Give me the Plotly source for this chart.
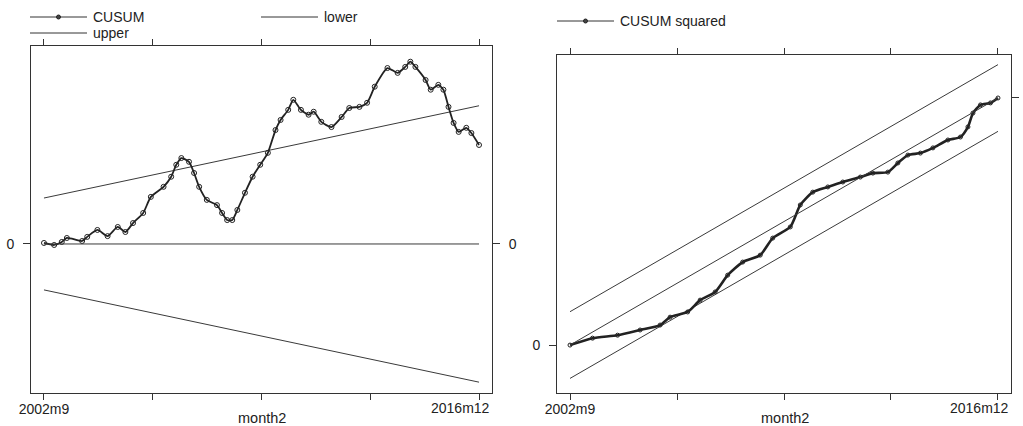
import plotly.graph_objects as go

W, H = 1023, 426

# ---------------- data ----------------
tick_months = [0, 42.75, 85.5, 128.25, 171]
tick_text = ["2002m9", "", "", "", ""]
end_label = "2016m12"

cusum_month = [0, 4, 7, 9, 15, 17, 21, 25, 29, 32, 35, 39, 42, 47, 50, 52, 54, 57, 59, 61,
               64, 68, 70, 72, 74, 76, 79, 82, 85, 88, 91, 93, 96, 98, 101, 104, 106, 109,
               113, 117, 120, 124, 127, 130, 135, 139, 142, 144, 146, 150, 152, 155, 157,
               159, 161, 163, 166, 168, 171]
cusum_value = [0.27, -0.27, 0.54, 1.6, 0.8, 1.9, 3.75, 2.1, 4.55, 3.2, 5.6, 8.3, 12.6, 15.3,
               18.0, 21.2, 23.0, 22.0, 19.0, 15.3, 11.8, 10.4, 8.3, 6.4, 6.4, 9.1, 13.7, 18.0,
               21.2, 24.4, 30.5, 33.2, 35.9, 38.6, 35.9, 34.6, 35.4, 32.7, 31.3, 34.0, 36.4,
               36.7, 37.8, 42.1, 47.1, 45.8, 47.4, 48.8, 47.4, 43.9, 41.3, 42.6, 41.3, 36.7,
               32.4, 30.0, 31.1, 29.7, 26.5]

bound_month = [0, 171]
upper_value = [12.3, 37.0]
lower_value = [-12.3, -37.0]
zero_value = [0, 0]

cusumsq_month = [0, 9, 19, 28, 36, 40, 47, 52, 58, 63, 69, 76, 81, 88, 92, 97, 103, 109,
                 116, 121, 127, 131, 135, 140, 145, 151, 156, 159, 161, 164, 168, 171]
cusumsq_value = [0.0, 0.028, 0.040, 0.061, 0.081, 0.113, 0.134, 0.182, 0.215, 0.283, 0.336,
                 0.364, 0.433, 0.478, 0.567, 0.619, 0.640, 0.660, 0.680, 0.696, 0.700, 0.737,
                 0.769, 0.777, 0.798, 0.830, 0.842, 0.883, 0.939, 0.972, 0.980, 1.0]
sq_upper = [0.135, 1.135]
sq_mid = [0.0, 1.0]
sq_lower = [-0.135, 0.865]

# ---------------- styling ----------------
FONT = "Liberation Sans, Arial, sans-serif"
INK = "#333333"
LINE = "#3a3a3a"

def px(x):
    return x / W

def py(y):
    return 1 - y / H

fig = go.Figure()

marker_style = dict(symbol="circle-open", size=5, color="#222222", line=dict(width=1))

# left panel (zero line drawn on the right-hand overlay axis so that axis is rendered)
fig.add_trace(go.Scatter(x=bound_month, y=zero_value, mode="lines",
                         line=dict(color=LINE, width=1), xaxis="x", yaxis="y3",
                         showlegend=False))
fig.add_trace(go.Scatter(x=bound_month, y=upper_value, mode="lines", name="upper",
                         line=dict(color=LINE, width=1), xaxis="x", yaxis="y", showlegend=False))
fig.add_trace(go.Scatter(x=bound_month, y=lower_value, mode="lines", name="lower",
                         line=dict(color=LINE, width=1), xaxis="x", yaxis="y", showlegend=False))
fig.add_trace(go.Scatter(x=cusum_month, y=cusum_value, mode="lines+markers", name="CUSUM",
                         line=dict(color="#222222", width=1.8, shape="spline", smoothing=0.6),
                         marker=marker_style, xaxis="x", yaxis="y", showlegend=False))

# right panel
fig.add_trace(go.Scatter(x=bound_month, y=sq_upper, mode="lines",
                         line=dict(color=LINE, width=1), xaxis="x2", yaxis="y2",
                         showlegend=False))
fig.add_trace(go.Scatter(x=bound_month, y=sq_mid, mode="lines",
                         line=dict(color=LINE, width=1), xaxis="x2", yaxis="y4",
                         showlegend=False))
fig.add_trace(go.Scatter(x=bound_month, y=sq_lower, mode="lines",
                         line=dict(color=LINE, width=1), xaxis="x2", yaxis="y2",
                         showlegend=False))
fig.add_trace(go.Scatter(x=cusumsq_month, y=cusumsq_value, mode="lines+markers",
                         name="CUSUM squared",
                         line=dict(color="#222222", width=2.6, shape="spline", smoothing=0.6),
                         marker=dict(symbol="circle-open", size=4, color="#222222",
                                     line=dict(width=1)),
                         xaxis="x2", yaxis="y2", showlegend=False))

# ranges
L_xr = [-5.1, 176.1]
R_xr = [-5.2, 176.2]
L_yr = [-39.9, 53.0]
R_yr = [-0.194, 1.174]

L_dom_x = [px(31), px(492)]
R_dom_x = [px(557), px(1011)]
L_dom_y = [py(393), py(46)]
R_dom_y = [py(393), py(55)]

tickfont = dict(family=FONT, size=14, color="#222222")

xcommon = dict(tickmode="array", tickvals=tick_months, ticktext=tick_text, ticks="outside",
               ticklen=6, tickcolor=INK, showline=True, linecolor=INK, linewidth=1,
               mirror="ticks", showgrid=False, zeroline=False, tickfont=tickfont,
               automargin=False, ticklabelstandoff=-3, ticklabeloverflow="allow")
ycommon = dict(showline=True, linecolor=INK, linewidth=1, ticks="outside", ticklen=7,
               tickcolor=INK, showgrid=False, zeroline=False, tickfont=tickfont,
               tickmode="array", ticklabelstandoff=6, automargin=False,
               ticklabeloverflow="allow")

fig.update_layout(
    width=W, height=H,
    margin=dict(l=0, r=0, t=0, b=0, pad=0),
    paper_bgcolor="white", plot_bgcolor="white",
    showlegend=False,
    xaxis=dict(domain=L_dom_x, range=L_xr, anchor="y", **xcommon),
    yaxis=dict(domain=L_dom_y, range=L_yr, anchor="x", tickvals=[0], ticktext=["0"],
               **ycommon),
    yaxis3=dict(domain=L_dom_y, range=L_yr, anchor="x", overlaying="y", side="right",
                tickvals=[0], ticktext=["0"], **ycommon),
    xaxis2=dict(domain=R_dom_x, range=R_xr, anchor="y2", **xcommon),
    yaxis2=dict(domain=R_dom_y, range=R_yr, anchor="x2", tickvals=[0], ticktext=["0"],
                **ycommon),
    yaxis4=dict(domain=R_dom_y, range=R_yr, anchor="x2", overlaying="y2", side="right",
                tickvals=[1], ticktext=[""], **ycommon),
)

# end-of-axis labels, right-aligned to the frame as in the original
for xr in (492, 1011):
    fig.add_annotation(x=px(xr), y=py(408), xref="paper", yref="paper", text=end_label,
                       showarrow=False, font=tickfont, xanchor="right", yanchor="middle")

# axis titles
for xc in (262, 785):
    fig.add_annotation(x=px(xc), y=py(418), xref="paper", yref="paper", text="month2",
                       showarrow=False, font=dict(family=FONT, size=14.5, color="#222222"),
                       xanchor="center", yanchor="middle")

# manual legends
legend_items = [
    (30, 17, "CUSUM", True),
    (261, 17, "lower", False),
    (30, 33, "upper", False),
    (557, 21, "CUSUM squared", True),
]
shapes = []
for x0, y0, label, has_marker in legend_items:
    shapes.append(dict(type="line", xref="paper", yref="paper", x0=px(x0), x1=px(x0 + 57),
                       y0=py(y0), y1=py(y0), line=dict(color=INK, width=1)))
    if has_marker:
        cx = x0 + 28.5
        shapes.append(dict(type="circle", xref="paper", yref="paper",
                           x0=px(cx - 2), x1=px(cx + 2), y0=py(y0 + 2), y1=py(y0 - 2),
                           line=dict(color="#222222", width=1), fillcolor="#444444"))
    fig.add_annotation(x=px(x0 + 61), y=py(y0), xref="paper", yref="paper", text=label,
                       showarrow=False, xanchor="left", yanchor="middle",
                       font=dict(family=FONT, size=14, color="#222222"))
fig.update_layout(shapes=shapes)

fig.write_html("out.html", config={"displayModeBar": False},
               post_script="document.body.style.margin='0';document.body.style.padding='0';")
